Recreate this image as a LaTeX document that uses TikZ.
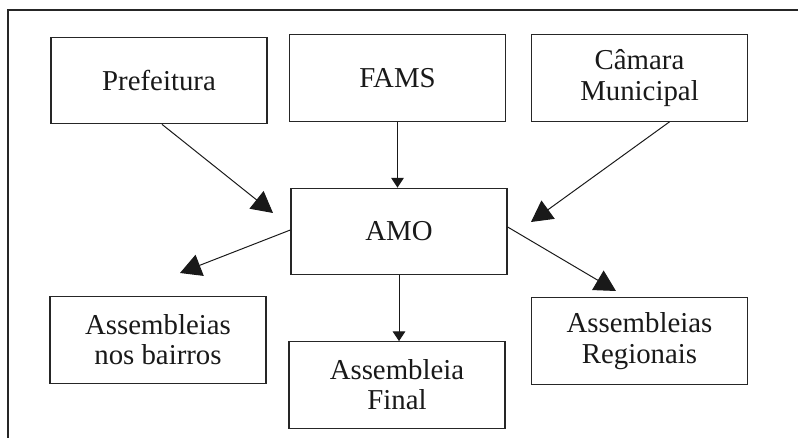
\documentclass[tikz,border=0pt]{standalone}
\usepackage{fontspec}
\setmainfont{Liberation Serif}
\usetikzlibrary{arrows.meta,calc}
\begin{document}
\begin{tikzpicture}[x=0.025cm,y=-0.025cm,
    bigarrow/.style={line width=0.7pt,-{Triangle[length=15pt,width=16pt]}},
    smallarrow/.style={line width=0.7pt,-{Triangle[length=7pt,width=9pt]}}]

      \useasboundingbox (0,0) rectangle (798,438);
      \draw[line width=0.9pt, black!85] (8,438) -- (8,10) -- (798,10);

      \begin{scope}[every node/.style={draw, black!85, text=black!90, line width=0.9pt,
          minimum width=5.4cm, minimum height=2.16cm, inner sep=0pt, align=center,
          font=\fontsize{20.5}{21.5}\selectfont}]
        \node (pref)      at (159,80.5)  {Prefeitura};
        \node (fams)      at (397.5,78) {FAMS};
        \node (camara)    at (639.5,78)  {Câmara\\Municipal};
        \node (amo)       at (399,231.5) {AMO};
        \node (bairros)   at (158,340)   {Assembleias\\nos bairros};
        \node (final)     at (397,385)   {Assembleia\\Final};
        \node (regionais) at (639.5,341) {Assembleias\\Regionais};
      \end{scope}

      \coordinate (preftip)    at (273,213);
      \coordinate (camaratip)  at (531,222);
      \coordinate (bairrostip) at (180,273);
      \coordinate (regtip)     at (616,291);

      \begin{scope}[black!90]
        \draw[bigarrow] ($(pref.south)+(3,0)$) -- (preftip);
        \draw[smallarrow] (fams.south) -- (amo.north -| fams.south);
        \draw[bigarrow] ($(camara.south)+(30,0)$) -- (camaratip);
        \draw[bigarrow] ($(amo.west)+(0,-1.5)$) -- (bairrostip);
        \draw[smallarrow] (amo.south) -- (amo.south |- final.north);
        \draw[bigarrow] ($(amo.east)+(0,-4.5)$) -- (regtip);
      \end{scope}

    \end{tikzpicture}
\end{document}
